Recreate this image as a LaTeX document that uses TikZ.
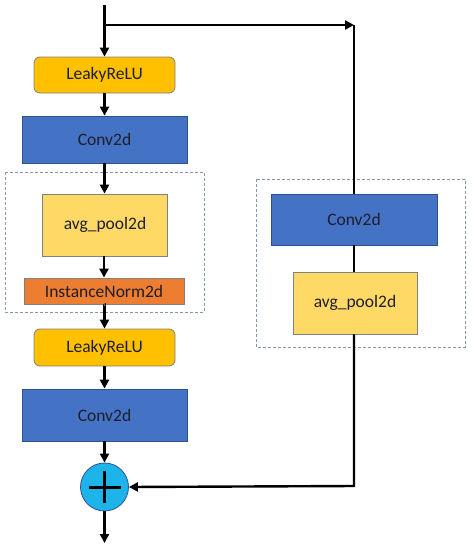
\documentclass[tikz,border=0pt]{standalone}
\usepackage{fontspec}
\setmainfont{Carlito}
\usetikzlibrary{arrows.meta,positioning}
\definecolor{relufill}{HTML}{FFC000}
\definecolor{convfill}{HTML}{4472C4}
\definecolor{poolfill}{HTML}{FFD966}
\definecolor{normfill}{HTML}{ED7D31}
\definecolor{addfill}{HTML}{1DB4EA}
\definecolor{convline}{HTML}{2F528F}
\definecolor{boxline}{HTML}{8497B0}
\definecolor{txt}{HTML}{1E1E2A}
\tikzset{
  layer/.style={draw, line width=0.8pt, text=txt, font=\fontsize{17.5}{20}\selectfont, inner sep=0pt},
  relu/.style={layer, fill=relufill, draw=gray, rounded corners=6pt, minimum width=141pt, minimum height=36pt},
  conv/.style={layer, fill=convfill, draw=convline, minimum width=165pt},
  pool/.style={layer, fill=poolfill, draw=gray, minimum width=125pt, minimum height=62pt},
  norm/.style={layer, fill=normfill, draw=gray, minimum width=160pt, minimum height=26pt},
  group/.style={draw=boxline, line width=1pt, dash pattern=on 3pt off 2pt},
  flow/.style={line width=2.4pt, -{Triangle[length=9pt,width=9pt]}},
  wire/.style={line width=2.4pt}
}
\begin{document}
\begin{tikzpicture}[x=1pt,y=-1pt]
            \useasboundingbox (0,0) rectangle (472,550);
            % main path
            \node[relu] (lrelu1) at (104.5,75) {LeakyReLU};
            \node[conv, minimum height=47pt] (conv1) at (104.5,139.5) {Conv2d};
            \node[pool] (pool1) at (105,225) {avg\_pool2d};
            \node[norm] (inorm) at (104,291) {InstanceNorm2d};
            \node[relu, minimum height=37pt] (lrelu2) at (104.5,347.5) {LeakyReLU};
            \node[conv, minimum height=52pt] (conv2) at (104.5,415) {Conv2d};
            \node[circle, draw=convline, line width=0.8pt, fill=addfill, minimum size=48pt] (add) at (104.5,487) {};
            \draw[line width=3pt] ([xshift=-16pt]add.center) -- ([xshift=16pt]add.center);
            \draw[line width=3pt] ([yshift=-16pt]add.center) -- ([yshift=16pt]add.center);
            % shortcut path
            \node[conv, minimum width=166pt, minimum height=51pt] (conv3) at (354,219.5) {Conv2d};
            \node[pool, minimum width=124pt] (pool2) at (355,303) {avg\_pool2d};
            % dashed groups
            \draw[group] (5,172) rectangle (204,312);
            \draw[group] (256,179) rectangle (465,347);
            % connectors
            \coordinate (in) at (104.5,5);
            \coordinate (split) at (104.5,25);
            \coordinate (turn) at (354,25);
            \coordinate (back) at (354,486);
            \coordinate (out) at (104.5,543);
            \draw[flow] (in) -- (lrelu1);
            \draw[flow] (lrelu1) -- (conv1);
            \draw[flow] (conv1) -- (conv1.south |- pool1.north);
            \draw[flow] (pool1.south -| inorm) -- (inorm);
            \draw[flow] (inorm) -- (inorm.south -| lrelu2) -- (lrelu2);
            \draw[flow] (lrelu2) -- (conv2);
            \draw[flow] (conv2) -- (add);
            \draw[flow] (add) -- (out);
            \draw[flow] (split) -- (turn);
            \draw[wire] (turn) -- (conv3);
            \draw[wire] (conv3) -- (conv3.south |- pool2.north);
            \draw[flow] (pool2.south -| back) -- (back) -- (add.east);
        \end{tikzpicture}
\end{document}
